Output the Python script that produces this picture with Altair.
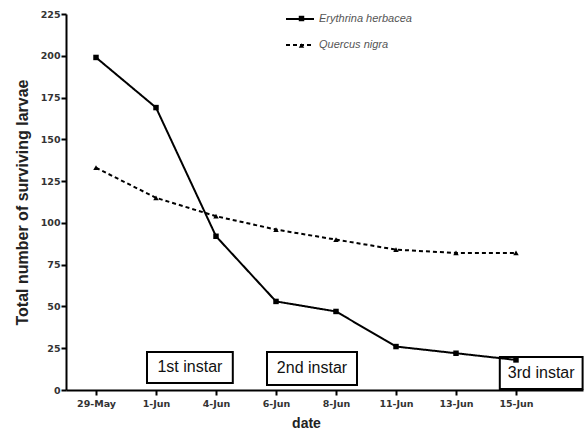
import altair as alt
import pandas as pd

dates = ["29-May", "1-Jun", "4-Jun", "6-Jun", "8-Jun", "11-Jun", "13-Jun", "15-Jun"]
erythrina = [199, 169, 92, 53, 47, 26, 22, 18]
quercus = [133, 115, 104, 96, 90, 84, 82, 82]
species = ["Erythrina herbacea", "Quercus nigra"]

rows = []
for i, d in enumerate(dates):
    rows.append({"idx": i, "date": d, "species": species[0], "sp": species[0], "value": erythrina[i]})
    rows.append({"idx": i, "date": d, "species": species[1], "sp": species[1], "value": quercus[i]})
df = pd.DataFrame(rows)

labels_js = "[" + ",".join("'" + d + "'" for d in dates) + "]"

# annotation boxes in data units
box_labels = ["1st instar", "2nd instar", "3rd instar"]
box_x1 = [0.85, 2.85, 6.73]
box_x2 = [2.28, 4.35, 8.11]
box_y1 = [4.2, 3.0, 0.6]
box_y2 = [22.8, 22.8, 19.8]
boxes = pd.DataFrame({
    "label": box_labels, "x1": box_x1, "x2": box_x2, "y1": box_y1, "y2": box_y2,
})
boxes["xm"] = (boxes.x1 + boxes.x2) / 2
boxes["ym"] = (boxes.y1 + boxes.y2) / 2

xscale = alt.Scale(domain=[-0.5, 8.1167], nice=False, zero=False)
yscale = alt.Scale(domain=[0, 225], nice=False)

xaxis = alt.Axis(
    values=list(range(len(dates))),
    labelExpr=labels_js + "[datum.value]",
    title="date", grid=False, tickSize=5, tickWidth=2, domainWidth=2,
    domainColor="black", tickColor="black",
    labelFont="DejaVu Sans", labelFontSize=9.5, labelFontWeight="bold",
    labelColor="#333", labelPadding=3,
    titleFont="Liberation Sans", titleFontSize=14, titleFontWeight="bold",
    titleColor="#222", titlePadding=9, titleX=240,
)
yaxis = alt.Axis(
    values=list(range(0, 226, 25)), title="Total number of surviving larvae",
    grid=False, tickSize=5, tickWidth=2, domainWidth=2,
    domainColor="black", tickColor="black",
    labelFont="DejaVu Sans", labelFontSize=9.5, labelFontWeight="bold",
    labelColor="#333", labelPadding=1,
    titleFont="Liberation Sans", titleFontSize=16, titleFontWeight="bold",
    titleColor="#222", titlePadding=10,
)

rects = alt.Chart(boxes).mark_rect(fill="white", stroke="black", strokeWidth=2).encode(
    x=alt.X("x1:Q", scale=xscale, axis=xaxis), x2="x2:Q",
    y=alt.Y("y1:Q", scale=yscale, axis=yaxis), y2="y2:Q",
)
texts = alt.Chart(boxes).mark_text(
    font="Liberation Sans", fontSize=16, color="#111"
).encode(
    x=alt.X("xm:Q", scale=xscale),
    y=alt.Y("ym:Q", scale=yscale),
    text="label:N",
)

base = alt.Chart(df)

lines = base.mark_line(color="black", strokeWidth=2).encode(
    x=alt.X("idx:Q", scale=xscale),
    y=alt.Y("value:Q", scale=yscale),
    strokeDash=alt.StrokeDash(
        "species:N",
        scale=alt.Scale(domain=species, range=[[1, 0], [4, 3]]),
        legend=alt.Legend(
            orient="none", legendX=219, legendY=-10, title=None,
            symbolType="stroke", symbolSize=784, symbolStrokeWidth=2,
            symbolStrokeColor="black",
            labelFont="Liberation Sans", labelFontSize=11,
            labelFontStyle="italic", labelColor="#555",
            rowPadding=6, labelOffset=4,
        ),
    ),
)

points = base.mark_point(filled=True, color="black", opacity=1, size=30).encode(
    x=alt.X("idx:Q", scale=xscale),
    y=alt.Y("value:Q", scale=yscale),
    shape=alt.Shape(
        "sp:N",
        scale=alt.Scale(domain=species, range=["square", "triangle-up"]),
        legend=alt.Legend(
            orient="none", legendX=230, legendY=-1, title=None,
            symbolSize=30, symbolFillColor="black", symbolStrokeColor="black",
            symbolStrokeWidth=0, labelExpr="''",
            labelFontSize=11, rowPadding=15, labelOffset=0,
        ),
    ),
)

chart = alt.layer(rects, texts, lines, points).properties(
    width=517, height=376,
    autosize=alt.AutoSizeParams(type="none"),
    padding={"left": 66, "top": 14, "right": 3, "bottom": 45},
    background="white",
).resolve_legend(strokeDash="independent", shape="independent").configure_view(stroke=None)

chart.save("out.html", embed_options={"renderer": "svg", "actions": False})
